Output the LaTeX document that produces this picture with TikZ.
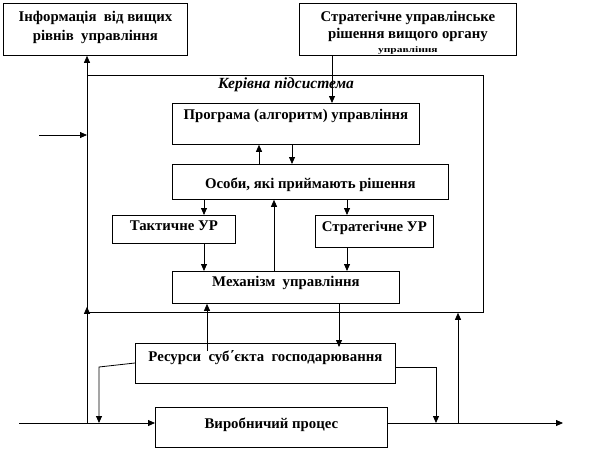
\documentclass[tikz,border=0pt]{standalone}
\usepackage{fontspec}
\setmainfont{Liberation Serif}
\usetikzlibrary{positioning,arrows.meta,calc}

\begin{document}
\begin{tikzpicture}[x=1pt,y=-1pt,line width=0.8pt,
    blk/.style={draw, inner sep=0pt, anchor=north west, font=\fontsize{14.8}{17}\selectfont\bfseries},
    arr/.style={-{Triangle[length=7pt,width=6pt]}}]
  \useasboundingbox (0,0) rectangle (591,450);
  % upper level
  \node[blk, align=center, minimum width=184pt, minimum height=52pt] (info) at (3,3)
    {Інформація \ від вищих\\[2pt]рівнів \ управління\\[-10pt]\mbox{}};
  \node[blk, align=center, minimum width=217pt, minimum height=52pt] (strat) at (299,3)
    {Стратегічне управлінське\\рішення вищого органу\\[-3pt]{\fontsize{8.5}{10}\selectfont\scalebox{1.35}[1]{управління}}\\[-21pt]\mbox{}};
  % managing subsystem
  \node[draw, inner sep=0pt, anchor=north west, minimum width=396pt, minimum height=237pt] (frame) at (87,75) {};
  \node[font=\fontsize{15.5}{16}\selectfont\bfseries\itshape] (kp) at (286,85) {Керівна підсистема};
  \node[blk, minimum width=247pt, text height=16pt, text depth=25pt] (prog) at (172,103) {Програма (алгоритм) управління};
  \node[blk, minimum width=276pt, text height=24.5pt, text depth=10.5pt] (osoby) at (172,164) {Особи, які приймають рішення};
  \node[blk, minimum width=123pt, text height=15.5pt, text depth=12.5pt] (takt) at (112,215) {Тактичне УР};
  \node[blk, minimum width=118pt, text height=16pt, text depth=16pt] (stur) at (315,215) {Стратегічне УР};
  \node[blk, minimum width=227pt, text height=15.5pt, text depth=16.5pt] (mech) at (172,271) {Механізм \ управління};
  % object
  \node[blk, minimum width=260pt, text height=18pt, text depth=22pt] (res) at (135,343) {Ресурси \ суб΄єкта \ господарювання};
  \node[blk, minimum width=232pt, text height=21.5pt, text depth=18.5pt] (virob) at (155,407) {Виробничий процес};

  \coordinate (inL) at (39,135);
  \coordinate (mainL) at (19,423);
  \coordinate (mainR) at (563,423);
  \coordinate (jR) at (458,423);
  \coordinate (rsL) at (99,367);
  \coordinate (rsR) at (436,367);
  \coordinate (cA) at (332,0);
  \coordinate (cB) at (259,0);
  \coordinate (cC) at (292,0);
  \coordinate (cD) at (204,0);
  \coordinate (cE) at (347,0);
  \coordinate (cF) at (274,0);
  \coordinate (cG) at (207,0);
  \coordinate (cH) at (339,0);

  \draw[arr] (strat.south -| cA) -- (prog.north -| cA);
  \draw[arr] (osoby.north -| cB) -- (prog.south -| cB);
  \draw[arr] (prog.south -| cC) -- (osoby.north -| cC);
  \draw[arr] (osoby.south -| cD) -- (takt.north -| cD);
  \draw[arr] (osoby.south -| cE) -- (stur.north -| cE);
  \draw[arr] (takt.south -| cD) -- (mech.north -| cD);
  \draw[arr] (stur.south -| cE) -- (mech.north -| cE);
  \draw[arr] (mech.north -| cF) -- (osoby.south -| cF);
  \draw[arr] ($(res.north -| cG)+(0,8)$) -- (mech.south -| cG);
  \draw[arr] (mech.south -| cH) -- ($(res.north -| cH)+(0,4)$);

  \draw[arr] (inL) -- (inL -| frame.west);
  \draw[arr] (frame.north west) -- (info.south -| frame.west);
  \draw[arr] (frame.west |- mainL) -- ($(frame.south west)+(0,-6)$);
  \draw[arr] (mainL) -- (mainL -| virob.west);
  \draw[arr] (virob.east |- mainL) -- (mainR);
  \draw[arr] (jR) -- (frame.south -| jR);
  \draw[arr] ($(res.north west)+(0,20)$) -- (rsL) -- (rsL |- mainL);
  \draw[arr] (res.east |- rsR) -- (rsR) -- (rsR |- mainL);
\end{tikzpicture}
\end{document}
